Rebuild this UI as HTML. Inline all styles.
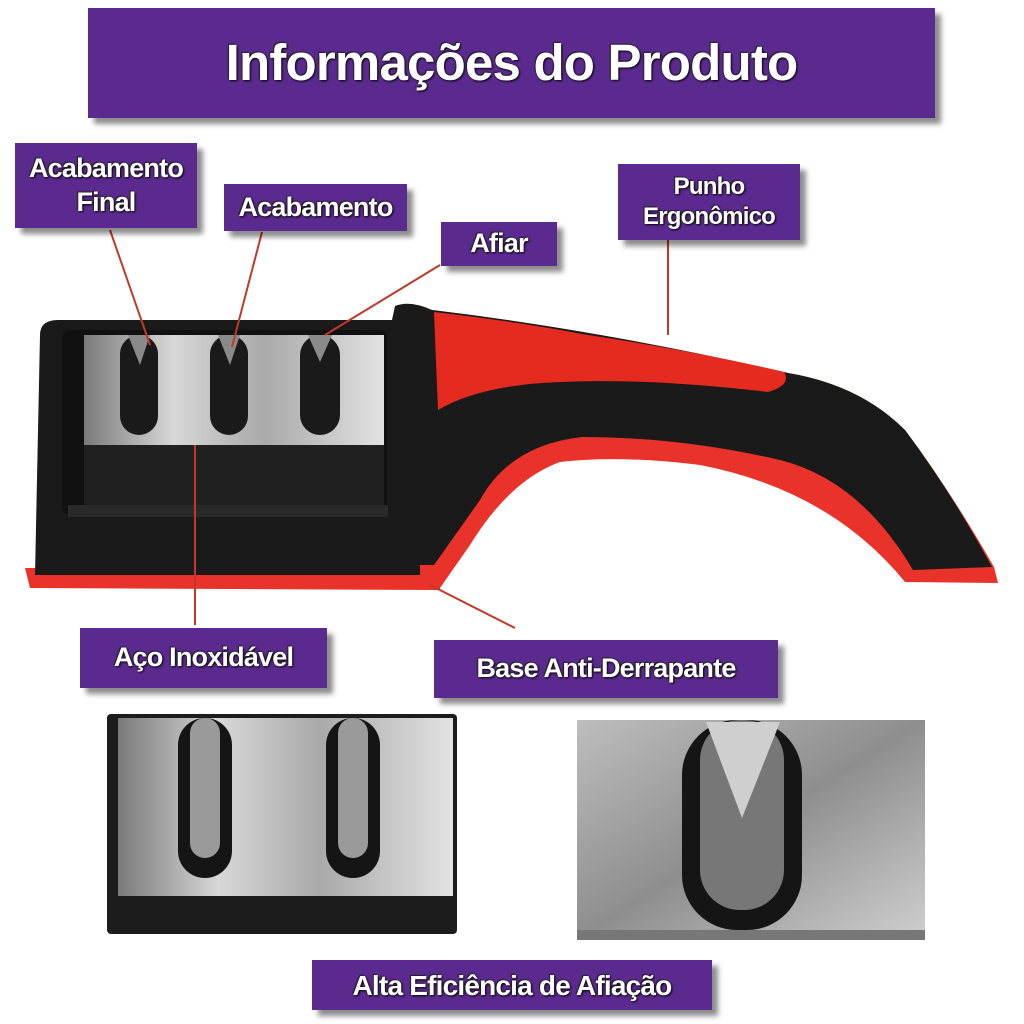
<!DOCTYPE html>
<html><head><meta charset="utf-8"><style>
html,body{margin:0;padding:0;background:#fff;}
body{width:1024px;height:1024px;position:relative;overflow:hidden;font-family:"Liberation Sans",sans-serif;}
.lb{position:absolute;background:#5b2a8e;color:#fff;text-align:center;box-shadow:6px 6px 5px rgba(0,0,0,0.45);display:flex;align-items:center;justify-content:center;line-height:1.25;letter-spacing:-0.8px;font-weight:bold;text-shadow:1px 1px 2px #000,-1px -1px 1px #222;}
svg{position:absolute;left:0;top:0;}
</style></head><body>
<svg width="1024" height="1024" viewBox="0 0 1024 1024">
<defs>
<linearGradient id="st" x1="0" x2="1" y1="0" y2="0">
<stop offset="0" stop-color="#7a7a7a"/><stop offset="0.3" stop-color="#d8d8d8"/><stop offset="0.6" stop-color="#a9a9a9"/><stop offset="1" stop-color="#e2e2e2"/></linearGradient>
<linearGradient id="st2" x1="0" x2="1" y1="0" y2="1">
<stop offset="0" stop-color="#bdbdbd"/><stop offset="0.5" stop-color="#8e8e8e"/><stop offset="1" stop-color="#cfcfcf"/></linearGradient>
</defs>
<!-- red base under left block -->
<path d="M25 568 L440 568 L440 590 L30 588 Z" fill="#e8322a"/>
<!-- left black block -->
<path d="M40 335 Q40 320 58 320 L392 320 L395 306 Q410 300 432 310 L436 575 L35 575 Z" fill="#1a1a1a"/>
<!-- handle red (full) -->
<path d="M420 308 L432 310 Q600 330 788 373 Q860 385 905 430 Q950 490 994 567 L998 583 L905 582 Q830 490 700 465 Q620 455 560 462 Q510 480 470 545 L440 588 L420 588 Z" fill="#e8322a"/>
<!-- handle black -->
<path d="M420 308 L432 310 Q600 330 788 373 Q860 385 905 430 Q950 490 992 567 L913 570 Q860 480 780 460 Q680 437 582 437 Q510 445 480 500 L434 565 L420 565 Z" fill="#1a1a1a"/>
<!-- red top patch -->
<path d="M434 312 Q520 322 582 334 Q700 352 784 372 Q792 385 768 392 Q650 378 560 382 Q480 385 438 410 Z" fill="#e52a20"/>
<!-- window -->
<rect x="62" y="330" width="325" height="185" rx="8" fill="#111"/>
<rect x="84" y="335" width="300" height="110" fill="url(#st)"/>
<rect x="84" y="445" width="300" height="70" fill="#202020"/>
<rect x="68" y="505" width="320" height="12" fill="#2a2a2a"/>
<g fill="#1a1a1a">
<rect x="120" y="335" width="38" height="100" rx="19"/>
<rect x="210" y="335" width="38" height="100" rx="19"/>
<rect x="300" y="335" width="40" height="100" rx="20"/>
</g>
<g fill="#8a8a8a">
<path d="M128 335 L150 335 L140 365 Z"/><path d="M218 335 L240 335 L230 365 Z"/><path d="M308 335 L332 335 L320 362 Z"/>
</g>
<!-- bottom left detail -->
<rect x="107" y="714" width="350" height="220" rx="4" fill="#1c1c1c"/>
<rect x="118" y="718" width="335" height="178" fill="url(#st)"/>
<rect x="178" y="718" width="54" height="160" rx="27" fill="#151515"/>
<rect x="190" y="718" width="30" height="140" rx="15" fill="#9a9a9a"/>
<rect x="326" y="718" width="54" height="160" rx="27" fill="#151515"/>
<rect x="338" y="718" width="30" height="140" rx="15" fill="#9a9a9a"/>
<!-- bottom right detail -->
<rect x="577" y="720" width="348" height="220" fill="url(#st2)"/>
<rect x="682" y="720" width="120" height="210" rx="55" fill="#151515"/>
<rect x="700" y="720" width="84" height="190" rx="40" fill="#777"/>
<path d="M706 722 L742 818 L780 722 Z" fill="#cfcfcf"/>
<rect x="577" y="930" width="348" height="10" fill="#777"/>
<!-- connector lines -->
<g stroke="#c0392b" stroke-width="2" fill="none">
<line x1="110" y1="230" x2="150" y2="345"/>
<line x1="262" y1="232" x2="232" y2="347"/>
<line x1="440" y1="265" x2="325" y2="335"/>
<line x1="668" y1="240" x2="668" y2="335"/>
<line x1="195" y1="445" x2="195" y2="625"/>
<line x1="430" y1="585" x2="515" y2="628"/>
</g>
</svg>
<div class="lb" style="left:88px;top:8px;width:847px;height:110px;font-size:51px;">Informações do Produto</div>
<div class="lb" style="left:15px;top:143px;width:182px;height:85px;font-size:27px;">Acabamento<br>Final</div>
<div class="lb" style="left:224px;top:184px;width:183px;height:47px;font-size:27px;">Acabamento</div>
<div class="lb" style="left:441px;top:222px;width:116px;height:44px;font-size:27px;">Afiar</div>
<div class="lb" style="left:618px;top:164px;width:182px;height:76px;font-size:24px;">Punho<br>Ergonômico</div>
<div class="lb" style="left:80px;top:628px;width:247px;height:60px;font-size:27px;">Aço Inoxidável</div>
<div class="lb" style="left:434px;top:640px;width:344px;height:58px;font-size:27px;">Base Anti-Derrapante</div>
<div class="lb" style="left:312px;top:960px;width:400px;height:50px;font-size:28px;">Alta Eficiência de Afiação</div>
</body></html>
